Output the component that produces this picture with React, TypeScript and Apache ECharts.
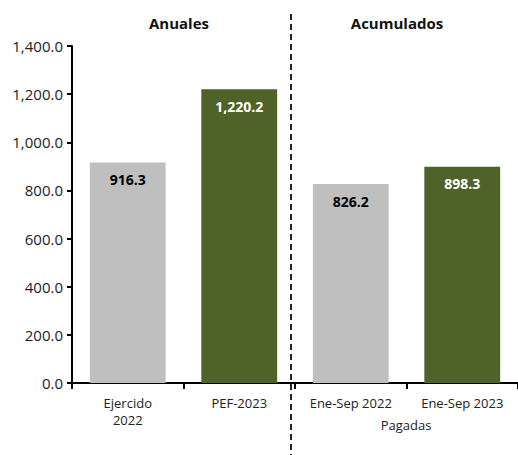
import React, { useEffect, useRef } from "react";
import * as echarts from "echarts";

const categories = ["Ejercido\n2022", "PEF-2023", "Ene-Sep 2022", "Ene-Sep 2023"];
const values = [916.3, 1220.2, 826.2, 898.3];
const barColors = ["#BFBFBF", "#4F6228", "#BFBFBF", "#4F6228"];
const labelColors = ["#000000", "#FFFFFF", "#000000", "#FFFFFF"];
const groupTitles = ["Anuales", "Acumulados"];
const subLabel = "Pagadas";

const FONT = "'Open Sans', 'Noto Sans', sans-serif";

const fmt = (v: number) =>
  v.toLocaleString("en-US", { minimumFractionDigits: 1, maximumFractionDigits: 1 });

export default function App() {
  const ref = useRef<HTMLDivElement>(null);
  useEffect(() => {
    if (!ref.current) return;
    const chart = echarts.init(ref.current, null, { renderer: "svg" });
    chart.setOption({
      animation: false,
      backgroundColor: "#ffffff",
      grid: { left: 72, right: 0, top: 46, bottom: 72, containLabel: false },
      xAxis: {
        type: "category",
        data: categories,
        axisLine: { lineStyle: { color: "#000", width: 2 } },
        axisTick: { show: true, length: 6, lineStyle: { color: "#000", width: 2 } },
        axisLabel: { color: "#222", fontSize: 13, fontFamily: FONT, margin: 11, lineHeight: 17 },
      },
      yAxis: {
        type: "value",
        min: 0,
        max: 1400,
        interval: 200,
        axisLine: { show: true, lineStyle: { color: "#000", width: 2 } },
        axisTick: { show: true, length: 5, lineStyle: { color: "#000", width: 2 } },
        splitLine: { show: false },
        axisLabel: {
          color: "#222",
          fontSize: 15,
          fontFamily: FONT,
          margin: 9,
          formatter: (v: number) => fmt(v),
        },
      },
      series: [
        {
          type: "bar",
          barCategoryGap: "32%",
          data: values.map((v, i) => ({
            value: v,
            itemStyle: { color: barColors[i] },
            label: { color: labelColors[i] },
          })),
          label: {
            show: true,
            position: "insideTop",
            distance: 10,
            fontSize: 14,
            fontWeight: "bold",
            fontFamily: FONT,
            formatter: (p: any) => fmt(p.value),
          },
        },
      ],
      graphic: [
        {
          type: "text",
          x: 179,
          y: 23,
          style: {
            text: groupTitles[0],
            font: `bold 15px ${FONT}`,
            fill: "#111",
            textAlign: "center",
            textVerticalAlign: "middle",
          },
        },
        {
          type: "text",
          x: 397,
          y: 23,
          style: {
            text: groupTitles[1],
            font: `bold 15px ${FONT}`,
            fill: "#111",
            textAlign: "center",
            textVerticalAlign: "middle",
          },
        },
        {
          type: "line",
          shape: { x1: 291, y1: 14, x2: 291, y2: 455 },
          style: { stroke: "#222", lineWidth: 2, lineDash: [6, 4] },
        },
        {
          type: "text",
          x: 406,
          y: 425,
          style: {
            text: subLabel,
            font: `13px ${FONT}`,
            fill: "#222",
            textAlign: "center",
            textVerticalAlign: "middle",
          },
        },
      ],
    });
    return () => chart.dispose();
  }, []);
  return (
    <div
      ref={ref}
      style={{ position: "fixed", left: 0, top: 0, width: 518, height: 455 }}
    />
  );
}
